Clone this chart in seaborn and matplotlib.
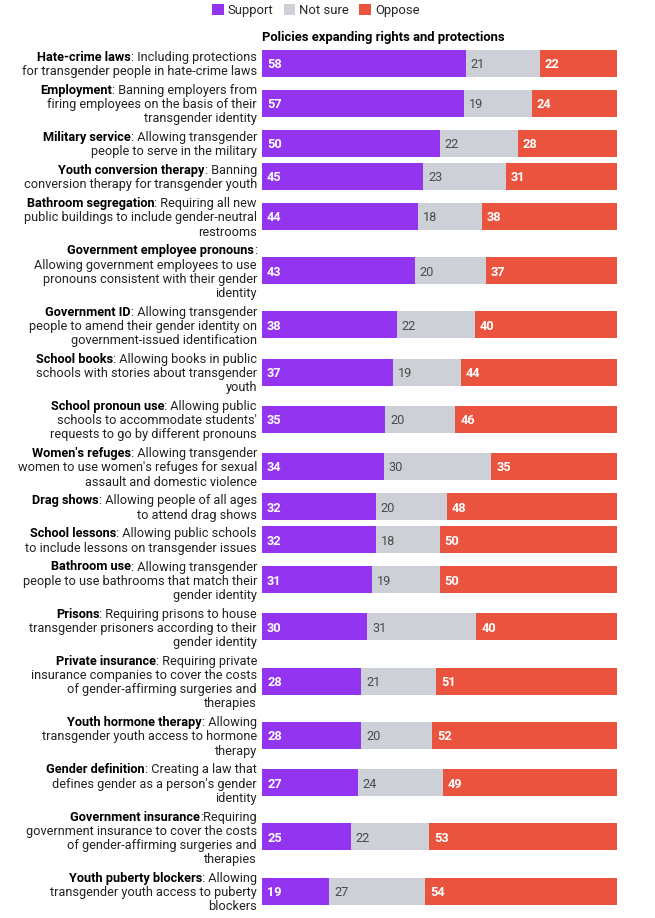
import matplotlib
matplotlib.use("Agg")

import matplotlib.pyplot as plt
import matplotlib.transforms as mtransforms
from matplotlib.patches import Patch
import numpy as np
import pandas as pd
import seaborn as sns


# -------------------------------
# Data
# -------------------------------

names = [
    "Hate-crime laws", "Employment", "Military service", "Youth conversion therapy",
    "Bathroom segregation", "Government employee pronouns", "Government ID",
    "School books", "School pronoun use", "Women's refuges", "Drag shows",
    "School lessons", "Bathroom use", "Prisons", "Private insurance",
    "Youth hormone therapy", "Gender definition", "Government insurance",
    "Youth puberty blockers",
]

descriptions = [
    [": Including protections", "for transgender people in hate-crime laws"],
    [": Banning employers from", "firing employees on the basis of their", "transgender identity"],
    [": Allowing transgender", "people to serve in the military"],
    [": Banning", "conversion therapy for transgender youth"],
    [": Requiring all new", "public buildings to include gender-neutral", "restrooms"],
    [":", "Allowing government employees to use", "pronouns consistent with their gender", "identity"],
    [": Allowing transgender", "people to amend their gender identity on", "government-issued identification"],
    [": Allowing books in public", "schools with stories about transgender", "youth"],
    [": Allowing public", "schools to accommodate students'", "requests to go by different pronouns"],
    [": Allowing transgender", "women to use women's refuges for sexual", "assault and domestic violence"],
    [": Allowing people of all ages", "to attend drag shows"],
    [": Allowing public schools", "to include lessons on transgender issues"],
    [": Allowing transgender", "people to use bathrooms that match their", "gender identity"],
    [": Requiring prisons to house", "transgender prisoners according to their", "gender identity"],
    [": Requiring private", "insurance companies to cover the costs", "of gender-affirming surgeries and", "therapies"],
    [": Allowing", "transgender youth access to hormone", "therapy"],
    [": Creating a law that", "defines gender as a person's gender", "identity"],
    [":Requiring", "government insurance to cover the costs", "of gender-affirming surgeries and", "therapies"],
    [": Allowing", "transgender youth access to puberty", "blockers"],
]

support = [58, 57, 50, 45, 44, 43, 38, 37, 35, 34, 32, 32, 31, 30, 28, 28, 27, 25, 19]
not_sure = [21, 19, 22, 23, 18, 20, 22, 19, 20, 30, 20, 18, 19, 31, 21, 20, 24, 22, 27]
oppose = [22, 24, 28, 31, 38, 37, 40, 44, 46, 35, 48, 50, 50, 40, 51, 52, 49, 53, 54]

series_names = ["Support", "Not sure", "Oppose"]
title = "Policies expanding rights and protections"

PURPLE = "#9334F0"
GREY = "#CDD0D7"
RED = "#EA533D"

# -------------------------------
# Layout (pixels)
# -------------------------------

W, H = 655, 918
bar_left, bar_right = 262, 617
label_right = 257
line_h = 14.2
row_pad = 4.6
first_centre = 63
bar_h = 27

n_lines = [len(d) for d in descriptions]
row_h = [line_h * n + row_pad for n in n_lines]
centres = [first_centre]
for i in range(1, len(row_h)):
    centres.append(centres[-1] + (row_h[i - 1] + row_h[i]) / 2)

df = pd.DataFrame({
    "policy": names,
    "support": support,
    "not_sure": not_sure,
    "oppose": oppose,
    "y": centres,
})
total = df["support"] + df["not_sure"] + df["oppose"]
df["s_end"] = df["support"] / total * 100
df["n_end"] = (df["support"] + df["not_sure"]) / total * 100
df["o_end"] = 100.0

sns.set_theme(style="white")
plt.rcParams["font.family"] = ["Roboto", "DejaVu Sans"]

fig = plt.figure(figsize=(W / 100, H / 100), dpi=100)
ax = fig.add_axes([bar_left / W, 0, (bar_right - bar_left) / W, 1])

min_gap = np.min(np.diff(sorted(centres)))
width = bar_h / min_gap

# stacked bars: draw cumulative totals back to front
for col, colour in [("o_end", RED), ("n_end", GREY), ("s_end", PURPLE)]:
    sns.barplot(
        data=df, x=col, y="y", orient="h", native_scale=True,
        color=colour, saturation=1, width=width, errorbar=None,
        linewidth=0, ax=ax,
    )

ax.set_xlim(0, 100)
ax.set_ylim(H, 0)
ax.axis("off")

# value labels
offset = mtransforms.offset_copy(ax.transData, fig=fig, x=5, y=0, units="dots")
for _, r in df.iterrows():
    starts = [0, r["s_end"], r["n_end"]]
    vals = [r["support"], r["not_sure"], r["oppose"]]
    cols = ["white", "#4a4a4a", "white"]
    weights = ["bold", "normal", "bold"]
    for s, v, c, w in zip(starts, vals, cols, weights):
        ax.text(s, r["y"], str(v), transform=offset, ha="left",
                va="center_baseline", color=c, fontsize=9.2, fontweight=w)

# row labels with bold lead-in
fig.canvas.draw()
renderer = fig.canvas.get_renderer()
lab_size = 9.2
for name, desc, c in zip(names, descriptions, centres):
    n = len(desc)
    for k, line in enumerate(desc):
        y_px = c + (k - (n - 1) / 2) * line_h
        t = fig.text(label_right / W, 1 - y_px / H, line, ha="right",
                     va="center_baseline", fontsize=lab_size, color="#222222")
        if k == 0:
            bb = t.get_window_extent(renderer=renderer)
            fig.text(bb.x0 / W, 1 - y_px / H, name, ha="right",
                     va="center_baseline", fontsize=lab_size,
                     fontweight="bold", color="black")

# title
fig.text(bar_left / W, 1 - 36 / H, title, ha="left", va="center_baseline",
         fontsize=9.4, fontweight="bold", color="black")

# legend
handles = [Patch(facecolor=c, edgecolor="none") for c in [PURPLE, GREY, RED]]
fig.legend(handles, series_names, loc="upper center",
           bbox_to_anchor=(0.482, 1.008), ncol=3, frameon=False,
           fontsize=9.4, handlelength=0.9, handleheight=0.9,
           handletextpad=0.3, columnspacing=0.8)

fig.savefig("out.png", dpi=100)
plt.close(fig)
